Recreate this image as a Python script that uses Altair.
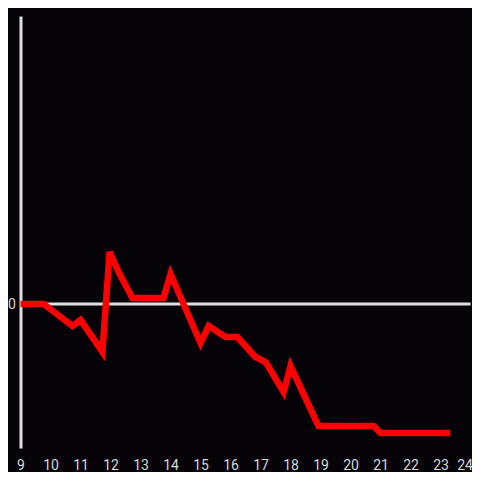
import altair as alt
import pandas as pd

hours = [9.0, 9.77, 10.73, 11.0, 11.73, 11.97, 12.27, 12.73, 13.77, 14.0, 15.0, 15.27,
         15.83, 16.23, 16.83, 17.17, 17.77, 18.0, 18.93, 20.77, 21.0, 23.33]
values = [0.0, 0.0, -0.153, -0.111, -0.333, 0.361, 0.222, 0.042, 0.042, 0.208, -0.271, -0.153,
          -0.229, -0.229, -0.368, -0.403, -0.611, -0.431, -0.847, -0.847, -0.896, -0.896]
x_ticks = list(range(9, 25))

df = pd.DataFrame({"h": hours, "v": values})

AX = "#e0e0e0"
LBL = "#d8d8d8"

xs = alt.Scale(domain=[9, 24], nice=False, zero=False)
ys = alt.Scale(domain=[-1, 2], nice=False, zero=False)

base = alt.Chart(df)

zero = alt.Chart(pd.DataFrame({"z": [0]})).mark_rule(color=AX, strokeWidth=3).encode(
    y=alt.Y("z:Q", scale=ys, axis=alt.Axis(
        values=[0], title=None, ticks=False, tickSize=0, grid=False, domain=True,
        domainColor=AX, domainWidth=3, labelColor=LBL, labelFontSize=14,
        labelPadding=5, labelFont="Roboto")),
)

line = base.mark_line(color="#ff0000", strokeWidth=6.5, strokeJoin="miter", strokeCap="butt").encode(
    x=alt.X("h:Q", scale=xs, axis=alt.Axis(
        values=x_ticks, title=None, ticks=False, tickSize=0, grid=False, domain=False,
        labelColor=LBL, labelFontSize=14, labelPadding=10, labelFont="Roboto",
        labelFlush=False, format="d",
        labelOffset={"condition": {"test": "datum.value == 24", "value": -6}, "value": 0})),
    y=alt.Y("v:Q", scale=ys),
)

chart = alt.layer(zero, line).properties(
    width=450, height=432,
    background="#050307",
    padding={"left": 12.5, "top": 8, "right": 1.5, "bottom": 24},
    autosize=alt.AutoSizeParams(type="none"),
).configure_view(stroke=None)

chart.save("out.html", embed_options={"renderer": "svg", "actions": False})
